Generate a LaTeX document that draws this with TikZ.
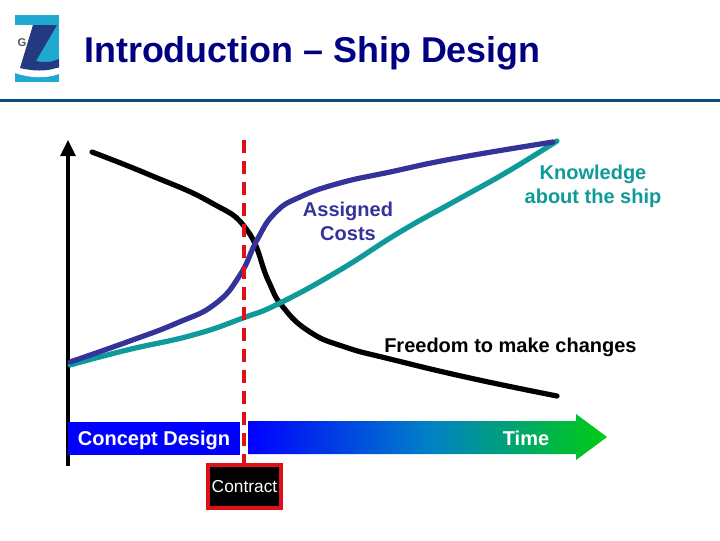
\documentclass[tikz,border=0pt]{standalone}
\usepackage{fontspec}
\setmainfont{Liberation Sans}
\usetikzlibrary{calc}
\definecolor{TitleBlue}{HTML}{000080}
\definecolor{RuleBlue}{HTML}{0B4F78}
\definecolor{LogoCyan}{HTML}{1FA8D0}
\definecolor{LogoNavy}{HTML}{233A80}
\definecolor{CostBlue}{HTML}{333399}
\definecolor{KnowTeal}{HTML}{0E9A9A}
\definecolor{ContractRed}{HTML}{E01018}
\definecolor{TimeGreen}{HTML}{00CC11}
\definecolor{TimeMid}{HTML}{0080C8}
\tikzset{
  curveline/.style = {line width = 3.9pt, line cap = round, line join = round},
  curvelabel/.style = {align = center, font = \bfseries\fontsize{15}{18}\selectfont},
  barlabel/.style = {text = white, font = \bfseries\fontsize{15}{17}\selectfont}
}

\begin{document}
\begin{tikzpicture}[x = .75pt, y = -.75pt]
  \useasboundingbox (0,0) rectangle (720,540);

  % logo
\begin{scope}
    \fill[LogoCyan] (15,15) rectangle (59,82);
    \fill[white] (15,25) -- (33,25) -- (26,68) -- (59,68) -- (59,74) .. controls (45,79) and (30,78) .. (15,73) -- cycle;
    \fill[LogoNavy] (33,25) -- (57,25) -- (36,61) .. controls (45,63) and (53,62) .. (59,59) -- (59,67) .. controls (47,72) and (32,71) .. (20,68) -- cycle;
    \node[text = gray!70!black, font = \bfseries\fontsize{8.5}{9}\selectfont, inner sep = 0pt] (logoG) at (22,43) {G};
\end{scope}

  % title and rule
  \node[anchor = west, text = TitleBlue, font = \bfseries\fontsize{26.9}{30}\selectfont, inner sep = 0pt] (title) at (84,53) {Introduction -- Ship Design};
  \draw[RuleBlue, line width = 2.6pt] (0,100.5) -- (720,100.5);

  % axis
  \coordinate (axisbottom) at (68,466);
  \coordinate (axistop) at (68,140);
  \draw[line width = 3pt] (axisbottom) -- (68,155);
  \fill (axistop) -- (76,156) -- (60,156) -- cycle;

  % curves
  \draw[curveline, black] plot [smooth, tension = .8] coordinates
    {(92,152) (150,175) (210,202) (247,230) (268,280) (283,307) (310,332) (345,347) (390,359) (470,378) (557,396)};
  \draw[curveline, KnowTeal] plot [smooth, tension = .8] coordinates
    {(70,365) (127,350) (193,335) (243,318) (280,303) (340,270) (400,232) (457,200) (507,172) (557,141)};
  \draw[curveline, CostBlue] plot [smooth, tension = .8] coordinates
    {(70,362) (127,342) (177,323) (215,304) (240,275) (257,240) (275,213) (300,197) (340,183) (390,172) (457,158) (553,142)};

  % time bar
  \shade[left color = blue, right color = TimeGreen, middle color = TimeMid] (248,421) -- (576,421) -- (576,414) -- (607,437) -- (576,460) -- (576,454) -- (248,454) -- cycle;
  \node[barlabel] (time) at (526,438) {Time};
  \node[fill = blue, barlabel, minimum width = 129pt, minimum height = 24.5pt, inner sep = 0pt, text height = 11pt, text depth = 0pt] (concept) at (154,438.5) {Concept Design};

  % contract
  \node[draw = ContractRed, line width = 3.4pt, fill = black, text = white, font = \fontsize{13}{15}\selectfont, minimum width = 54.5pt, minimum height = 32pt, inner sep = 0pt] (contract) at (244.5,486.5) {Contract};
  \draw[ContractRed, line width = 3.2pt, dash pattern = on 9.75pt off 5.95pt] (244,140) -- (244,463);

  % labels
  \node[curvelabel, text = CostBlue] (costs) at (348,221.5) {Assigned\\Costs};
  \node[curvelabel, text = KnowTeal] (knowledge) at (593,186) {Knowledge\\about the ship};
  \node[curvelabel, text = black, anchor = west, inner sep = 0pt] (freedom) at (384,347) {Freedom to make changes};
\end{tikzpicture}
\end{document}
